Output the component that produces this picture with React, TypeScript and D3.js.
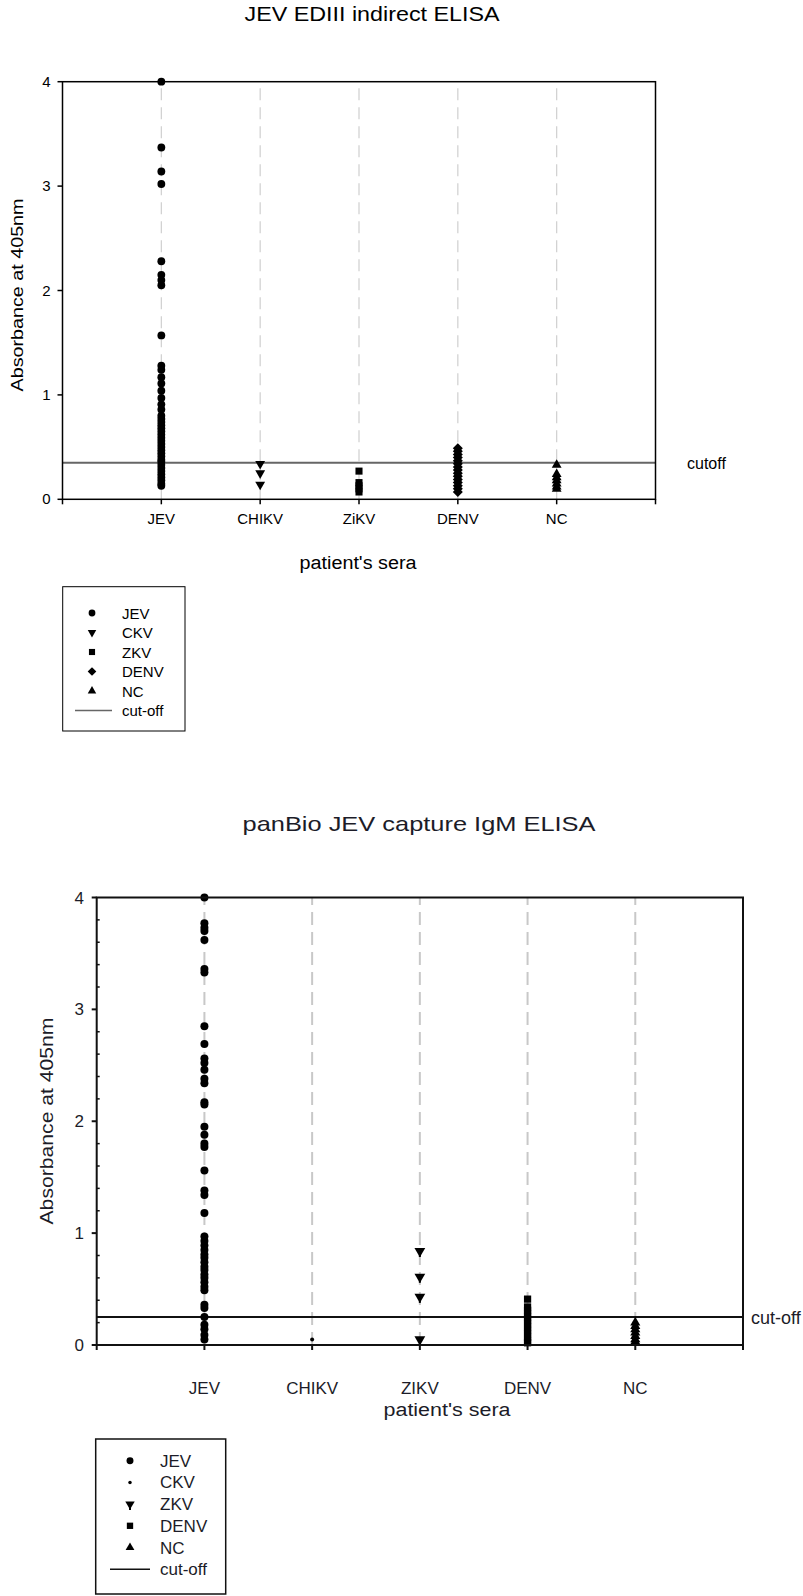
import React from "react";
import * as d3 from "d3";

// ---------- DATA ----------
const topCategories = ["JEV", "CHIKV", "ZiKV", "DENV", "NC"];
const bottomCategories = ["JEV", "CHIKV", "ZIKV", "DENV", "NC"];
const yTicks = [0, 1, 2, 3, 4];
const legendLabels = ["JEV", "CKV", "ZKV", "DENV", "NC", "cut-off"];

const topJEV = [4.0, 3.37, 3.14, 3.02, 2.28, 2.15, 2.1, 2.05, 1.57, 1.28, 1.24, 1.17, 1.11, 1.04, 0.97, 0.91, 0.86, 0.8, 0.77, 0.74, 0.71, 0.68, 0.65, 0.62, 0.59, 0.56, 0.53, 0.5, 0.47, 0.44, 0.41, 0.38, 0.36, 0.33, 0.3, 0.27, 0.24, 0.21, 0.18, 0.15, 0.13];
const topCHIKV = [0.34, 0.25, 0.14];
const topZiKV = [0.27, 0.16, 0.13, 0.1, 0.07];
const topDENV = [0.49, 0.46, 0.43, 0.4, 0.37, 0.34, 0.31, 0.28, 0.25, 0.22, 0.19, 0.16, 0.13, 0.1, 0.07];
const topNC = [0.33, 0.24, 0.21, 0.18, 0.15, 0.12, 0.1];
const topCutoff = 0.35;

const bottomJEV = [4.0, 3.77, 3.73, 3.7, 3.62, 3.36, 3.33, 2.85, 2.69, 2.56, 2.52, 2.46, 2.38, 2.34, 2.17, 2.15, 1.95, 1.88, 1.8, 1.77, 1.56, 1.38, 1.34, 1.18, 0.97, 0.93, 0.89, 0.85, 0.81, 0.78, 0.74, 0.7, 0.67, 0.63, 0.6, 0.56, 0.52, 0.49, 0.36, 0.33, 0.25, 0.18, 0.14, 0.09, 0.05];
const bottomCHIKV = [0.05];
const bottomZIKV = [0.84, 0.61, 0.43, 0.05];
const bottomDENV = [0.41, 0.34, 0.31, 0.28, 0.25, 0.22, 0.19, 0.16, 0.13, 0.1, 0.07, 0.04, 0.02];
const bottomNC = [0.2, 0.17, 0.14, 0.11, 0.08, 0.05, 0.03];
const bottomCutoff = 0.25;

// ---------- MARKERS ----------
type Shape = "circle" | "down" | "square" | "diamond" | "up" | "dot" | "downStem";

function Marker({ shape, x, y, s = 1 }: { shape: Shape; x: number; y: number; s?: number }) {
  const t = `translate(${x},${y})`;
  if (shape === "circle") return <path transform={t} d={d3.symbol().type(d3.symbolCircle).size(48 * s)()!} fill="#000" />;
  if (shape === "dot") return <path transform={t} d={d3.symbol().type(d3.symbolCircle).size(12 * s)()!} fill="#000" />;
  if (shape === "square") return <path transform={t} d={d3.symbol().type(d3.symbolSquare).size(50 * s)()!} fill="#000" />;
  if (shape === "diamond") return <path transform={`${t} rotate(45)`} d={d3.symbol().type(d3.symbolSquare).size(50 * s)()!} fill="#000" />;
  if (shape === "up") return <path transform={t} d={d3.symbol().type(d3.symbolTriangle).size(42 * s)()!} fill="#000" />;
  if (shape === "down") return <path transform={`${t} rotate(180)`} d={d3.symbol().type(d3.symbolTriangle).size(42 * s)()!} fill="#000" />;
  // downStem
  return (
    <g transform={t}>
      <path transform="rotate(180)" d={d3.symbol().type(d3.symbolTriangle).size(48 * s)()!} fill="#000" />
      <line x1={0} x2={0} y1={2} y2={6} stroke="#000" strokeWidth={2} />
    </g>
  );
}

export default function App() {
  // ---------- TOP CHART ----------
  const tx = d3.scaleLinear().domain([0, 6]).range([62.5, 655.5]);
  const ty = d3.scaleLinear().domain([0, 4]).range([499.3, 81.7]);
  const topSeries: { values: number[]; shape: Shape }[] = [
    { values: topJEV, shape: "circle" },
    { values: topCHIKV, shape: "down" },
    { values: topZiKV, shape: "square" },
    { values: topDENV, shape: "diamond" },
    { values: topNC, shape: "up" },
  ];
  const topLegendShapes: Shape[] = ["circle", "down", "square", "diamond", "up"];

  // ---------- BOTTOM CHART ----------
  const bx = d3.scaleLinear().domain([0, 6]).range([96.7, 743]);
  const by = d3.scaleLinear().domain([0, 4]).range([1345, 897.5]);
  const bottomSeries: { values: number[]; shape: Shape }[] = [
    { values: bottomJEV, shape: "circle" },
    { values: bottomCHIKV, shape: "dot" },
    { values: bottomZIKV, shape: "downStem" },
    { values: bottomDENV, shape: "square" },
    { values: bottomNC, shape: "up" },
  ];
  const bottomLegendShapes: Shape[] = ["circle", "dot", "downStem", "square", "up"];
  const minorTicks = d3.range(1, 20).map((i) => i * 0.2).filter((v) => Math.abs(v - Math.round(v)) > 0.01);

  const font = "'Liberation Sans', Arial, sans-serif";
  const txt2 = "#1c1c28";

  return (
    <svg width={803} height={1596} style={{ position: "absolute", left: 0, top: 0, background: "#fff" }} fontFamily={font}>
      <rect x={0} y={0} width={803} height={1596} fill="#fff" />

      {/* ===== TOP CHART ===== */}
      <text x={372} y={20.5} fontSize={21} textAnchor="middle" textLength={255} lengthAdjust="spacingAndGlyphs">JEV EDIII indirect ELISA</text>

      {topCategories.map((c, i) => (
        <line key={c} x1={tx(i + 1)} x2={tx(i + 1)} y1={ty(0)} y2={ty(4)} stroke="#cfcfcf" strokeWidth={1.2} strokeDasharray="12,7" />
      ))}
      <line x1={tx(0)} x2={tx(6)} y1={ty(topCutoff)} y2={ty(topCutoff)} stroke="#666" strokeWidth={2} />
      <text x={687} y={469} fontSize={16}>cutoff</text>

      {topSeries.map((s, i) =>
        s.values.map((v, j) => <Marker key={`t${i}-${j}`} shape={s.shape} x={tx(i + 1)} y={ty(v)} />)
      )}

      <rect x={tx(0)} y={ty(4)} width={tx(6) - tx(0)} height={ty(0) - ty(4)} fill="none" stroke="#000" strokeWidth={1.5} />
      {yTicks.map((t) => (
        <g key={`ty${t}`}>
          <line x1={tx(0) - 5} x2={tx(0)} y1={ty(t)} y2={ty(t)} stroke="#000" strokeWidth={1.5} />
          <text x={tx(0) - 12} y={ty(t) + 5} fontSize={15} textAnchor="end">{t}</text>
        </g>
      ))}
      {d3.range(0, 7).map((i) => (
        <line key={`tx${i}`} x1={tx(i)} x2={tx(i)} y1={ty(0)} y2={ty(0) + 5} stroke="#000" strokeWidth={1.5} />
      ))}
      {topCategories.map((c, i) => (
        <text key={`tl${c}`} x={tx(i + 1)} y={524} fontSize={15} textAnchor="middle">{c}</text>
      ))}
      <text x={358} y={569} fontSize={18} textAnchor="middle" textLength={117} lengthAdjust="spacingAndGlyphs">patient's sera</text>
      <text transform="translate(23,295) rotate(-90)" fontSize={17} textAnchor="middle" textLength={193} lengthAdjust="spacingAndGlyphs">Absorbance at 405nm</text>

      <rect x={62.7} y={586.7} width={122.3} height={144.3} fill="#fff" stroke="#000" strokeWidth={1} />
      {legendLabels.map((l, i) => {
        const y = 613 + i * 19.5;
        return (
          <g key={`tlg${l}`}>
            {i < 5 ? (
              <Marker shape={topLegendShapes[i]} x={92} y={y} s={0.75} />
            ) : (
              <line x1={75} x2={112} y1={y} y2={y} stroke="#666" strokeWidth={1.5} />
            )}
            <text x={122} y={y + 5.5} fontSize={15}>{l}</text>
          </g>
        );
      })}

      {/* ===== BOTTOM CHART ===== */}
      <text x={419} y={830.5} fontSize={21} textAnchor="middle" fill={txt2} textLength={353} lengthAdjust="spacingAndGlyphs">panBio JEV capture IgM ELISA</text>

      {bottomCategories.map((c, i) => (
        <line key={`bg${c}`} x1={bx(i + 1)} x2={bx(i + 1)} y1={by(0)} y2={by(4)} stroke="#c8c8c8" strokeWidth={2} strokeDasharray="13,7" />
      ))}
      <line x1={bx(0)} x2={bx(6)} y1={by(bottomCutoff)} y2={by(bottomCutoff)} stroke="#111" strokeWidth={2} />
      <text x={751} y={1324} fontSize={18} fill={txt2}>cut-off</text>

      {bottomSeries.map((s, i) =>
        s.values.map((v, j) => <Marker key={`b${i}-${j}`} shape={s.shape} x={bx(i + 1)} y={by(v)} s={1.05} />)
      )}

      <rect x={bx(0)} y={by(4)} width={bx(6) - bx(0)} height={by(0) - by(4)} fill="none" stroke="#111" strokeWidth={2} />
      {yTicks.map((t) => (
        <g key={`by${t}`}>
          <line x1={bx(0) - 5} x2={bx(0)} y1={by(t)} y2={by(t)} stroke="#111" strokeWidth={2} />
          <text x={84} y={by(t) + 6} fontSize={17} textAnchor="end" fill={txt2}>{t}</text>
        </g>
      ))}
      {minorTicks.map((t) => (
        <line key={`bm${t.toFixed(1)}`} x1={bx(0)} x2={bx(0) + 3} y1={by(t)} y2={by(t)} stroke="#111" strokeWidth={1.5} />
      ))}
      {d3.range(0, 7).map((i) => (
        <line key={`bx${i}`} x1={bx(i)} x2={bx(i)} y1={by(0)} y2={by(0) + 5} stroke="#111" strokeWidth={2} />
      ))}
      {bottomCategories.map((c, i) => (
        <text key={`bl${c}`} x={bx(i + 1)} y={1394} fontSize={17} textAnchor="middle" fill={txt2}>{c}</text>
      ))}
      <text x={447} y={1416} fontSize={18} textAnchor="middle" fill={txt2} textLength={127} lengthAdjust="spacingAndGlyphs">patient's sera</text>
      <text transform="translate(53,1121) rotate(-90)" fontSize={19} textAnchor="middle" fill={txt2} textLength={207} lengthAdjust="spacingAndGlyphs">Absorbance at 405nm</text>

      <rect x={95.7} y={1439} width={130} height={155} fill="#fff" stroke="#111" strokeWidth={1.5} />
      {legendLabels.map((l, i) => {
        const y = 1460.7 + i * 21.7;
        return (
          <g key={`blg${l}`}>
            {i < 5 ? (
              <Marker shape={bottomLegendShapes[i]} x={130} y={y} s={0.8} />
            ) : (
              <line x1={110} x2={150} y1={y} y2={y} stroke="#111" strokeWidth={1.5} />
            )}
            <text x={160} y={y + 6} fontSize={17} fill={txt2}>{l}</text>
          </g>
        );
      })}
    </svg>
  );
}
